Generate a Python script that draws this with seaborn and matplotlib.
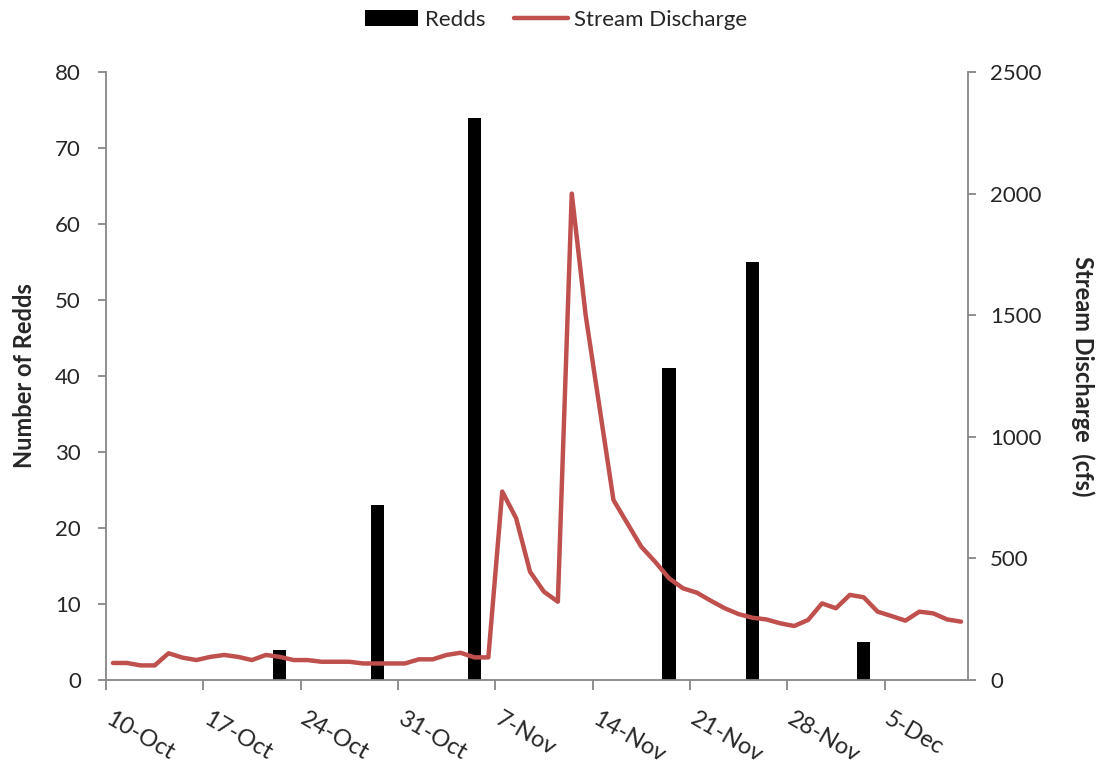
import numpy as np
import pandas as pd
import matplotlib
matplotlib.use("Agg")
import matplotlib.pyplot as plt
import matplotlib.transforms as mtransforms
import seaborn as sns
from matplotlib.patches import Patch
from matplotlib.lines import Line2D

# ---- data ----
start_date = "2012-10-10"
n_days = 62  # 10-Oct .. 10-Dec

discharge_cfs = [70, 70, 60, 60, 110, 92, 82, 95, 103, 95,
                 82, 103, 95, 82, 82, 75, 75, 75, 68, 68,
                 68, 68, 85, 85, 103, 112, 93, 93, 775, 665,
                 445, 363, 322, 2000, 1500, 1120, 740, 644, 548, 486,
                 418, 377, 359, 326, 295, 271, 256, 249, 233, 222,
                 247, 315, 295, 350, 340, 281, 263, 244, 281, 274,
                 249, 240]

redd_dates = ["2012-10-22", "2012-10-29", "2012-11-05", "2012-11-19", "2012-11-25", "2012-12-03"]
redd_counts = [4, 23, 74, 41, 55, 5]

tick_labels = ["10-Oct", "17-Oct", "24-Oct", "31-Oct", "7-Nov", "14-Nov", "21-Nov", "28-Nov", "5-Dec"]

# ---- build table ----
dates = pd.date_range(start_date, periods=n_days, freq="D")
df = pd.DataFrame({"day": np.arange(n_days), "date": dates, "discharge": discharge_cfs})
df["redds"] = 0.0
for d, c in zip(pd.to_datetime(redd_dates), redd_counts):
    df.loc[df["date"] == d, "redds"] = c

# ---- style ----
sns.set_style("white")
plt.rcParams["font.family"] = ["Lato", "DejaVu Sans"]
grey = "#868686"
red = "#C0504D"

fig = plt.figure(figsize=(10.99, 7.66), dpi=100)
ax = fig.add_axes([106 / 1099, 1 - 680 / 766, (968 - 106) / 1099, (680 - 72) / 766])

sns.barplot(data=df, x="day", y="redds", color="black", width=0.95,
            linewidth=0, saturation=1, ax=ax)

ax2 = ax.twinx()
sns.lineplot(data=df, x="day", y="discharge", color=red, lw=3.2, ax=ax2)

ax.set_xlim(-0.5, n_days - 0.5)
ax.set_ylim(0, 80)
ax.set_yticks(np.arange(0, 81, 10))
ax2.set_ylim(0, 2500)
ax2.set_yticks(np.arange(0, 2501, 500))

for a in (ax, ax2):
    a.grid(False)
    a.spines["top"].set_visible(False)
ax.spines["right"].set_visible(False)
ax2.spines["left"].set_visible(False)
ax2.spines["bottom"].set_visible(False)
for s in ("left", "bottom"):
    ax.spines[s].set_color(grey)
    ax.spines[s].set_linewidth(1.3)
ax2.spines["right"].set_color(grey)
ax2.spines["right"].set_linewidth(1.3)

ax.tick_params(axis="y", direction="out", length=6, width=1.3, color=grey,
               labelsize=16, pad=12, left=True)
ax.tick_params(axis="x", direction="out", length=7, width=1.3, color=grey,
               pad=13, bottom=True)
ax2.tick_params(axis="y", direction="out", length=6, width=1.3, color=grey,
                labelsize=16, pad=10, right=True)

tick_pos = np.arange(-0.5, n_days - 1, 7)[:len(tick_labels)]
ax.set_xticks(tick_pos)
ax.set_xticklabels(tick_labels, rotation=-30, ha="left", va="top",
                   rotation_mode="anchor", fontsize=17)
shift = mtransforms.ScaledTranslation(7 / 100, 0, fig.dpi_scale_trans)
for lbl in ax.get_xticklabels():
    lbl.set_transform(lbl.get_transform() + shift)

ax.set_xlabel("")
ax.set_ylabel("Number of Redds", fontsize=17, fontweight="bold", va="center")
ax.yaxis.set_label_coords(-0.094, 0.5)
ax2.set_xlabel("")
ax2.set_ylabel("Stream Discharge  (cfs)", fontsize=17, fontweight="bold",
               rotation=270, va="center")
ax2.yaxis.set_label_coords(1.133, 0.5)

handles = [Patch(facecolor="black", edgecolor="none"),
           Line2D([0], [0], color=red, lw=3.2)]
fig.legend(handles, ["Redds", "Stream Discharge"], loc="center",
           bbox_to_anchor=(0.506, 1 - 20 / 766), ncol=2, frameon=False,
           fontsize=16, handlelength=2.4, handletextpad=0.3, columnspacing=1.3)

fig.savefig("out.png", dpi=100)
